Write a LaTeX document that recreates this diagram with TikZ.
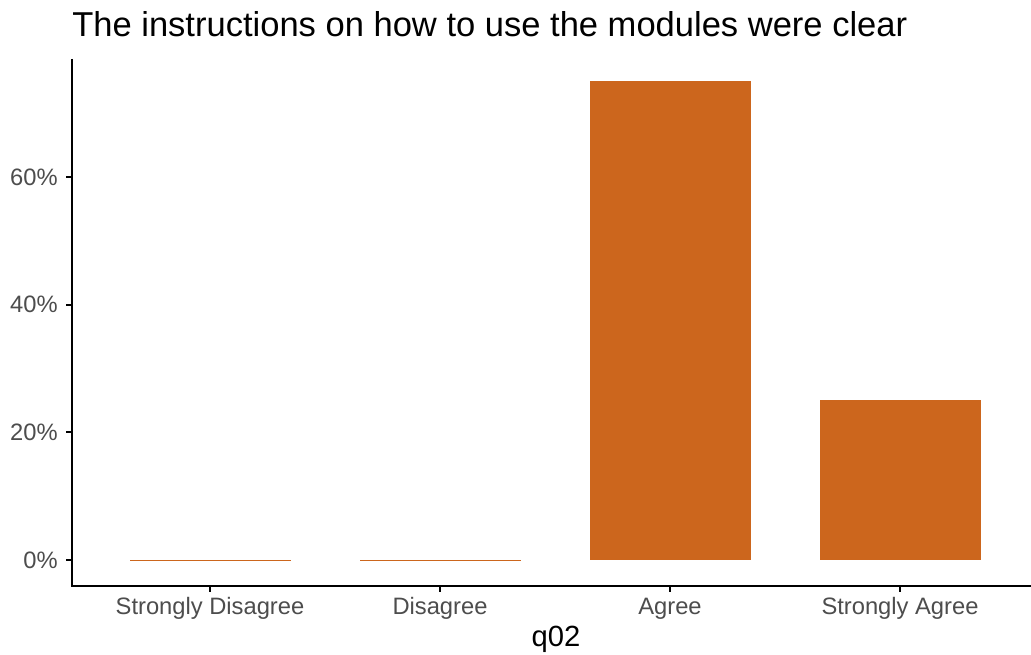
\documentclass[tikz,border=0pt]{standalone}
\usepackage{fontspec}
\setmainfont{Liberation Sans}
\definecolor{barc}{RGB}{204,102,29}
\definecolor{tickc}{RGB}{77,77,77}
\begin{document}
\begin{tikzpicture}[x=0.75pt,y=-0.75pt,
  axisline/.style={line width=1.5pt,black},
  tickline/.style={line width=1.5pt,black},
  bar/.style={fill=barc,draw=none},
  zerobar/.style={draw=barc,line width=0.5pt},
  ticklab/.style={text=tickc,font=\fontsize{17.8}{21}\selectfont,inner sep=0pt},
  axtitle/.style={text=black,font=\fontsize{21.9}{26}\selectfont,inner sep=0pt},
  ptitle/.style={text=black,font=\fontsize{25.9}{31}\selectfont,inner sep=0pt}]
\useasboundingbox[fill=white] (0,0) rectangle (1031,655);
% title
\node[ptitle,anchor=base west] (title) at (72,37) {The instructions on how to use the modules were clear};
% bars
\fill[bar] (590,81) rectangle (751,560);
\fill[bar] (820,400.4) rectangle (981,560);
\draw[zerobar] (130,560) -- (291,560);
\draw[zerobar] (360,560) -- (521,560);
% axes
\coordinate (origin) at (72,586);
\coordinate (ytop) at (72,59);
\coordinate (xend) at (1031,586);
\draw[axisline] (ytop) -- (origin) -- (xend);
% y ticks
\foreach \v/\lab in {0/0\%,20/20\%,40/40\%,60/60\%}{
  \pgfmathsetmacro{\yy}{560-6.383*\v}
  \draw[tickline] (66,\yy) -- (72,\yy);
  \node[ticklab,anchor=base east] (y\v) at (58,\yy+8) {\lab};
}
% x ticks
\foreach \xx/\lab/\nm in {210/Strongly Disagree/sd,440/Disagree/d,670/Agree/a,900/Strongly Agree/sa}{
  \draw[tickline] (\xx,586) -- (\xx,592);
  \node[ticklab,anchor=base] (x\nm) at (\xx,614) {\lab};
}
\node[axtitle,anchor=base] (xtitle) at (556,646) {q02};
\end{tikzpicture}
\end{document}
